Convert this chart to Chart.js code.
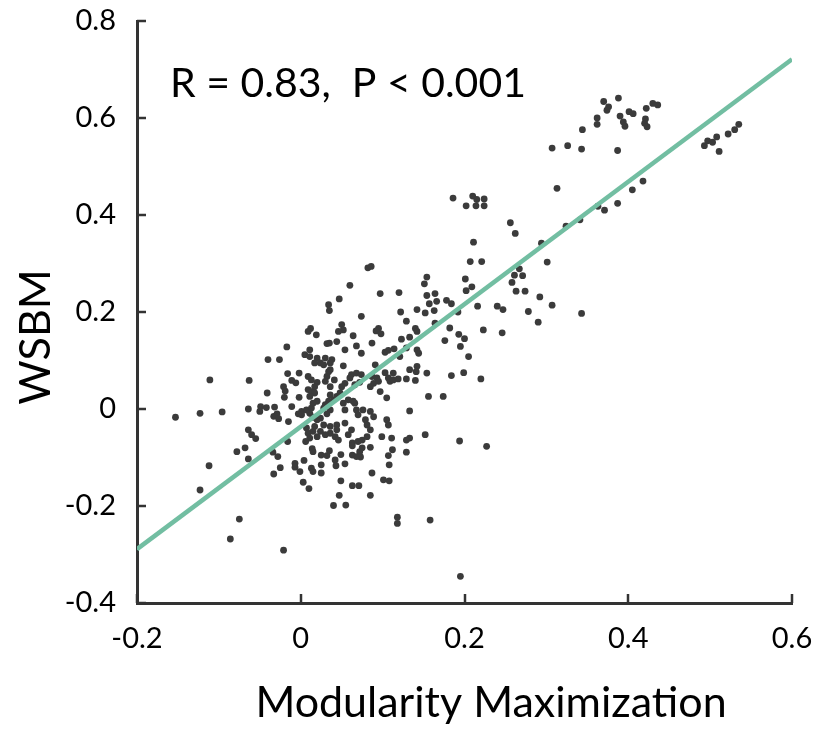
<!DOCTYPE html>
<html><head><meta charset="utf-8">
<script src="https://cdn.jsdelivr.net/npm/chart.js@4/dist/chart.umd.min.js"></script>
<style>html,body{margin:0;padding:0;background:#fff;}#wrap{width:819px;height:733px;position:relative;}</style>
</head><body><div id="wrap"><canvas id="c" width="819" height="733"></canvas></div>
<script>
// x: Modularity Maximization, y: WSBM
const modularity = [
-0.153,-0.123,-0.096,-0.111,-0.063,-0.064,-0.049,-0.050,-0.042,-0.032,-0.029,-0.033,-0.027,-0.015,-0.011,-0.003,-0.017,-0.040,-0.026,-0.016,
-0.002,-0.011,-0.006,-0.021,-0.019,-0.041,-0.020,-0.002,-0.064,-0.060,-0.055,-0.016,-0.078,-0.068,-0.064,-0.034,-0.028,-0.025,-0.033,-0.007,
-0.007,-0.001,-0.112,-0.123,-0.075,-0.086,-0.021,
0.082,0.086,0.060,0.047,0.034,0.035,0.097,0.120,0.154,0.151,0.154,0.164,0.157,0.166,0.163,0.178,0.184,0.142,0.152,0.122,
0.074,0.129,0.140,0.164,0.182,0.050,0.052,0.046,0.012,0.009,0.095,0.092,0.098,
0.019,0.032,0.035,0.044,0.005,0.011,0.011,0.020,0.017,0.024,0.030,0.038,0.036,0.028,0.009,0.013,0.020,0.017,0.034,0.032,
0.030,0.009,0.013,0.017,0.020,0.011,0.036,0.040,0.044,0.034,0.030,0.028,0.001,0.007,0.013,0.011,0.001,0.015,0.020,0.024,
0.036,0.017,0.028,0.036,0.044,0.015,0.024,0.036,0.044,0.020,0.011,0.015,0.032,0.007,0.009,0.030,0.042,0.046,
0.064,0.068,0.074,0.087,0.123,0.133,0.142,0.054,0.103,0.107,0.121,0.142,0.144,0.036,0.052,0.041,0.036,0.091,0.103,0.113,
0.133,0.142,0.141,0.154,0.062,0.068,0.074,0.060,0.066,0.072,0.054,0.050,0.087,0.093,0.089,0.095,0.085,0.097,0.107,0.109,
0.113,0.119,0.129,0.140,0.105,0.156,0.048,0.052,0.058,0.054,0.066,0.068,0.076,0.070,0.085,0.089,0.079,0.081,0.085,0.105,
0.107,0.133,0.054,0.062,0.058,0.081,0.099,0.111,0.133,0.152,0.114,0.129,0.174,0.184,0.064,
0.006,0.014,0.015,0.025,0.032,0.035,0.042,0.043,0.054,0.049,0.063,0.063,0.070,0.075,0.063,0.068,0.073,0.072,0.075,0.085,
0.107,0.112,0.108,0.129,0.129,0.004,0.013,0.015,0.025,0.025,0.003,0.010,0.049,0.063,0.071,0.087,0.101,0.108,0.047,0.085,
0.040,0.055,0.118,0.118,0.158,0.195,0.194,0.227,
0.186,0.210,0.215,0.224,0.202,0.214,0.224,0.313,0.256,0.262,0.211,0.294,0.207,0.221,0.301,0.267,0.261,0.271,0.258,0.201,
0.209,0.202,0.263,0.274,0.292,0.307,0.343,0.278,0.290,0.192,0.216,0.240,0.247,0.223,0.246,0.193,0.200,0.176,0.195,0.205,
0.199,0.220,0.324,0.341,0.363,0.371,0.387,
0.370,0.388,0.376,0.374,0.362,0.362,0.344,0.390,0.394,0.396,0.401,0.406,0.422,0.430,0.436,0.421,0.420,0.423,0.307,0.326,
0.343,0.387,0.405,0.418,0.493,0.497,0.503,0.508,0.511,0.522,0.530,0.535
];
const wsbm = [
-0.017,-0.009,-0.006,0.060,0.059,0.000,0.005,-0.005,0.003,0.004,-0.010,-0.015,-0.020,-0.026,0.005,-0.010,0.128,0.102,0.102,0.073,
0.074,0.059,0.054,0.046,0.037,0.033,0.024,0.024,-0.043,-0.053,-0.061,-0.067,-0.088,-0.080,-0.103,-0.089,-0.098,-0.121,-0.134,-0.112,
-0.120,-0.129,-0.117,-0.167,-0.227,-0.268,-0.291,
0.291,0.294,0.255,0.227,0.215,0.203,0.238,0.240,0.272,0.258,0.234,0.238,0.217,0.222,0.203,0.224,0.217,0.205,0.198,0.200,
0.191,0.181,0.166,0.177,0.167,0.174,0.163,0.160,0.166,0.160,0.166,0.161,0.155,
0.153,0.135,0.136,0.139,0.112,0.122,0.108,0.105,0.095,0.095,0.105,0.102,0.095,0.091,0.067,0.060,0.055,0.046,0.077,0.067,
0.057,0.040,0.036,0.033,0.016,0.026,0.029,0.019,0.026,0.016,0.009,0.002,-0.005,-0.002,0.002,-0.009,-0.012,-0.017,-0.022,-0.019,
-0.002,-0.036,-0.033,-0.036,-0.033,-0.046,-0.046,-0.050,-0.043,-0.057,-0.060,0.012,-0.010,-0.039,-0.050,-0.053,-0.057,-0.064,
0.151,0.130,0.115,0.136,0.144,0.148,0.160,0.122,0.117,0.121,0.108,0.122,0.115,0.081,0.089,0.060,0.046,0.091,0.075,0.074,
0.081,0.088,0.077,0.074,0.071,0.074,0.071,0.064,0.050,0.055,0.053,0.046,0.067,0.064,0.053,0.057,0.046,0.036,0.064,0.057,
0.060,0.062,0.062,0.059,0.023,0.026,0.033,0.012,0.019,-0.002,0.012,-0.002,-0.002,-0.012,-0.005,-0.016,-0.022,-0.033,-0.043,-0.022,
-0.033,-0.004,-0.029,-0.043,-0.053,-0.057,-0.057,-0.060,-0.060,-0.053,0.124,0.126,0.026,0.069,0.016,
-0.067,-0.082,-0.088,-0.095,-0.096,-0.086,-0.105,-0.117,-0.113,-0.094,-0.070,-0.076,-0.067,-0.064,-0.095,-0.098,-0.099,-0.088,-0.080,-0.079,
-0.096,-0.084,-0.115,-0.089,-0.064,-0.106,-0.122,-0.129,-0.115,-0.132,-0.151,-0.164,-0.148,-0.158,-0.158,-0.132,-0.146,-0.148,-0.178,-0.178,
-0.199,-0.198,-0.223,-0.236,-0.229,-0.345,-0.066,-0.077,
0.435,0.439,0.432,0.433,0.419,0.419,0.419,0.455,0.384,0.362,0.344,0.342,0.304,0.304,0.303,0.289,0.276,0.275,0.261,0.268,
0.252,0.244,0.243,0.243,0.231,0.214,0.197,0.201,0.179,0.200,0.212,0.212,0.205,0.163,0.157,0.154,0.145,0.141,0.129,0.108,
0.075,0.062,0.377,0.390,0.418,0.410,0.424,
0.634,0.641,0.623,0.616,0.600,0.587,0.576,0.604,0.592,0.583,0.613,0.609,0.620,0.630,0.627,0.598,0.589,0.582,0.538,0.543,
0.536,0.533,0.452,0.470,0.543,0.553,0.550,0.561,0.531,0.567,0.576,0.587
];
const fitX = [-0.2, 0.6];
const fitY = [-0.289, 0.721];
const xTickValues = [-0.2, 0, 0.2, 0.4, 0.6];
const xTickLabels = ['-0.2', '0', '0.2', '0.4', '0.6'];
const yTickValues = [-0.4, -0.2, 0, 0.2, 0.4, 0.6, 0.8];
const yTickLabels = ['-0.4', '-0.2', '0', '0.2', '0.4', '0.6', '0.8'];
const xTitle = 'Modularity Maximization';
const yTitle = 'WSBM';
const statText = 'R = 0.83,  P < 0.001';

const FONT = 'Lato, "Open Sans", sans-serif';
const AX = '#333333';

const points = modularity.map((x, i) => ({x: x, y: wsbm[i]}));
const fit = fitX.map((x, i) => ({x: x, y: fitY[i]}));
const labelFor = (vals, labels, v) => labels[vals.findIndex(t => Math.abs(t - v) < 1e-9)];

const decor = {
  id: 'decor',
  afterDraw(chart) {
    const {ctx, chartArea: a, scales: {x, y}} = chart;
    ctx.save();
    ctx.strokeStyle = AX; ctx.lineWidth = 2.5;
    xTickValues.forEach(v => { const px = Math.round(x.getPixelForValue(v)); ctx.beginPath(); ctx.moveTo(px, a.bottom); ctx.lineTo(px, a.bottom - 9); ctx.stroke(); });
    yTickValues.forEach(v => { const py = Math.round(y.getPixelForValue(v)); ctx.beginPath(); ctx.moveTo(a.left, py); ctx.lineTo(a.left + 9, py); ctx.stroke(); });
    ctx.fillStyle = '#000';
    ctx.font = '41px ' + FONT;
    ctx.textAlign = 'left'; ctx.textBaseline = 'alphabetic';
    ctx.fillText(statText, a.left + 33, 97);
    ctx.font = '43px ' + FONT;
    ctx.textAlign = 'center'; ctx.textBaseline = 'middle';
    ctx.fillText(xTitle, 491, 703);
    ctx.translate(36, 337); ctx.rotate(-Math.PI / 2);
    ctx.fillText(yTitle, 0, 0);
    ctx.restore();
  }
};

new Chart(document.getElementById('c'), {
  type: 'scatter',
  data: {
    datasets: [
      {type: 'line', data: fit, showLine: true, borderColor: '#72bea2', borderWidth: 4.5, pointRadius: 0, fill: false, tension: 0, order: 0},
      {type: 'scatter', data: points, backgroundColor: '#3b3b3b', borderWidth: 0, pointRadius: 3.4, order: 1}
    ]
  },
  options: {
    responsive: false, animation: false, devicePixelRatio: 1,
    layout: {padding: {top: 21, right: 27, left: 0, bottom: 0}},
    plugins: {legend: {display: false}, tooltip: {enabled: false}},
    scales: {
      x: {
        type: 'linear', min: -0.2, max: 0.6,
        afterBuildTicks: s => { s.ticks = xTickValues.map(v => ({value: v})); },
        afterFit: s => { s.height = 130; s.paddingLeft = 0; s.paddingRight = 0; },
        grid: {display: false, drawTicks: false},
        border: {display: true, color: AX, width: 3},
        ticks: {padding: 18, color: '#000', font: {family: FONT, size: 29}, maxRotation: 0, callback: v => labelFor(xTickValues, xTickLabels, v)}
      },
      y: {
        type: 'linear', min: -0.4, max: 0.8,
        afterBuildTicks: s => { s.ticks = yTickValues.map(v => ({value: v})); },
        afterFit: s => { s.width = 137; s.paddingTop = 0; s.paddingBottom = 0; },
        grid: {display: false, drawTicks: false},
        border: {display: true, color: AX, width: 3},
        ticks: {padding: 21, color: '#000', font: {family: FONT, size: 29}, callback: v => labelFor(yTickValues, yTickLabels, v)}
      }
    }
  },
  plugins: [decor]
});
</script></body></html>
